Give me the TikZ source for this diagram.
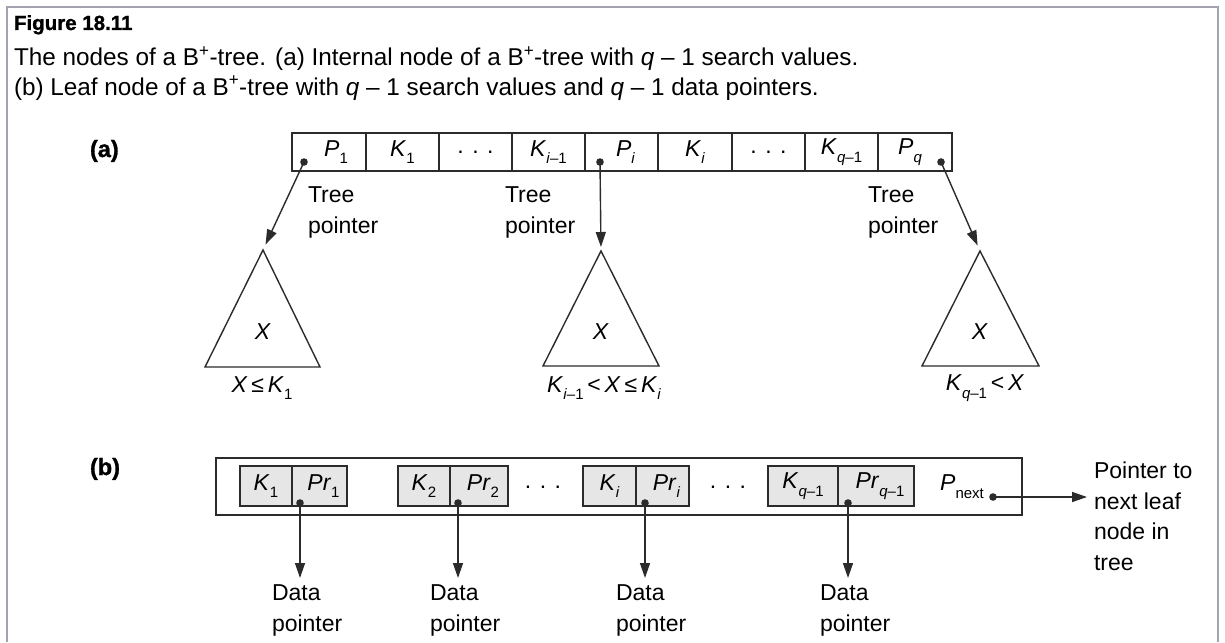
\documentclass[tikz,border=0pt]{standalone}
\usepackage{fontspec}
\setmainfont{Liberation Sans}
\newfontfamily\heavyfont[FakeBold=1.2]{Liberation Sans Bold}
\usetikzlibrary{arrows.meta}

% lowered subscript in the running text size
\newcommand\lo[1]{\raisebox{-0.34em}{\fontsize{15}{15}\selectfont #1}}
\newcommand\sym[2]{\textit{#1}\lo{#2}}

\definecolor{framegray}{HTML}{A3A3B2}
\definecolor{cellgray}{HTML}{E6E6E6}
\definecolor{ink}{HTML}{2B2B2B}

\begin{document}
\begin{tikzpicture}[x=1pt,y=-1pt,
  every node/.style={inner sep=0pt, outer sep=0pt, text=black,
    font=\fontsize{23}{27}\selectfont},
  capt/.style={anchor=base west, font=\fontsize{24.3}{28}\selectfont},
  partlabel/.style={anchor=base west, font=\fontsize{23.5}{28}\heavyfont},
  cell/.style={draw=ink, line width=1.4pt, anchor=north west, minimum height=38pt},
  gcell/.style={draw=ink, fill=cellgray, line width=1.4pt, anchor=north west, minimum height=40pt},
  note/.style={anchor=north west, align=left, font=\fontsize{23}{30.5}\selectfont},
  ptr/.style={draw=ink, line width=1.4pt, -{Triangle[length=15pt,width=10pt]}},
  tri/.style={draw=ink, line width=1.4pt, line join=miter},
  frame/.style={draw=framegray, line width=2pt}
]
\useasboundingbox (0,0) rectangle (1225,642);

% outer frame of the figure
\draw[frame] (7,642) -- (7,7.5) -- (1218,7.5) -- (1218,642);

% caption
\node[anchor=base west, font=\fontsize{20.5}{24}\heavyfont] (fig) at (14,30) {Figure 18.11};
\node[capt] (cap1) at (14,66) {The nodes of a B\textsuperscript{+}-tree. (a) Internal node of a B\textsuperscript{+}-tree with \textit{q} – 1 search values.};
\node[capt] (cap2) at (14,95) {(b) Leaf node of a B\textsuperscript{+}-tree with \textit{q} – 1 search values and \textit{q} – 1 data pointers.};

% ---------- (a) internal node ----------
\node[partlabel] (la) at (90,157) {(a)};

\node[cell, minimum width=74pt] (c1) at (292,133) {\hspace*{14pt}\sym{P}{1}};
\node[cell, minimum width=73pt] (c2) at (366,133) {\sym{K}{1}};
\node[cell, minimum width=73pt] (c3) at (439,133) {. . .};
\node[cell, minimum width=73pt] (c4) at (512,133) {\sym{K}{\textit{i}–1}};
\node[cell, minimum width=73pt] (c5) at (585,133) {\hspace*{8pt}\sym{P}{\textit{i}}};
\node[cell, minimum width=74pt] (c6) at (658,133) {\sym{K}{\textit{i}}};
\node[cell, minimum width=73pt] (c7) at (732,133) {. . .};
\node[cell, minimum width=73pt] (c8) at (805,133) {\sym{K}{\textit{q}–1}};
\node[cell, minimum width=74pt] (c9) at (878,133) {\sym{P}{\textit{q}}\hspace*{10pt}};

\coordinate (d1) at (304,162);
\coordinate (di) at (600,162);
\coordinate (dq) at (941,162);
\foreach \d in {d1,di,dq} \fill[ink] (\d) circle (3.8pt);

\node[note] (tp1) at (308,187) {Tree\\pointer};
\node[note] (tp2) at (505,187) {Tree\\pointer};
\node[note] (tp3) at (868,187) {Tree\\pointer};

% subtrees
\coordinate (t1) at (263,250);
\coordinate (t2) at (601,251);
\coordinate (t3) at (980,251);
\draw[tri] (t1) -- (205,367) -- (320,367) -- cycle;
\draw[tri] (t2) -- (543,366) -- (659,366) -- cycle;
\draw[tri] (t3) -- (922,366) -- (1039,366) -- cycle;
\node (x1) at (263,332) {\textit{X}};
\node (x2) at (601,332) {\textit{X}};
\node (x3) at (980,332) {\textit{X}};
\node (r1) at (262,388) {\textit{X}\,≤\,\sym{K}{1}};
\node (r2) at (604,388) {\sym{K}{\textit{i}–1}\,<\,\textit{X}\,≤\,\sym{K}{\textit{i}}};
\node (r3) at (985,388) {\sym{K}{\textit{q}–1}\,<\,\textit{X}};

\draw[ptr, shorten >=6pt] (d1) -- (t1);
\draw[ptr, shorten >=4pt] (di) -- (t2);
\draw[ptr, shorten >=6pt] (dq) -- (t3);

% ---------- (b) leaf node ----------
\node[partlabel] (lb) at (90,475) {(b)};

\node[draw=ink, line width=1.4pt, anchor=north west, minimum width=806pt, minimum height=57pt] (leaf) at (216,458) {};

\node[gcell, minimum width=52pt] (k1) at (240,466) {\sym{K}{1}};
\node[gcell, minimum width=55pt] (p1) at (292,466) {\hspace*{8pt}\sym{Pr}{1}};
\node[gcell, minimum width=52pt] (k2) at (398,466) {\sym{K}{2}};
\node[gcell, minimum width=58pt] (p2) at (450,466) {\hspace*{8pt}\sym{Pr}{2}};
\node (e1) at (543,487) {. . .};
\node[gcell, minimum width=53pt] (k3) at (583,466) {\sym{K}{\textit{i}}};
\node[gcell, minimum width=53pt] (p3) at (636,466) {\hspace*{8pt}\sym{Pr}{\textit{i}}};
\node (e2) at (728,487) {. . .};
\node[gcell, minimum width=70pt] (k4) at (768,466) {\sym{K}{\textit{q}–1}};
\node[gcell, minimum width=76pt] (p4) at (838,466) {\hspace*{8pt}\sym{Pr}{\textit{q}–1}};
\node (pn) at (962,487) {\textit{P}\lo{next}};

\coordinate (b1) at (300,503);
\coordinate (b2) at (458,503);
\coordinate (b3) at (645,503);
\coordinate (b4) at (848,503);
\coordinate (bn) at (993,497);
\foreach \d in {b1,b2,b3,b4,bn} \fill[ink] (\d) circle (3.8pt);

\coordinate (e1d) at (300,578);
\coordinate (e2d) at (458,578);
\coordinate (e3d) at (645,578);
\coordinate (e4d) at (848,578);
\coordinate (end) at (1087,497);
\draw[ptr] (b1) -- (e1d);
\draw[ptr] (b2) -- (e2d);
\draw[ptr] (b3) -- (e3d);
\draw[ptr] (b4) -- (e4d);
\draw[ptr] (bn) -- (end);

\node[note] (dp1) at (272,585) {Data\\pointer};
\node[note] (dp2) at (430,585) {Data\\pointer};
\node[note] (dp3) at (616,585) {Data\\pointer};
\node[note] (dp4) at (820,585) {Data\\pointer};
\node[note] (nx) at (1094,462) {Pointer to\\next leaf\\node in\\tree};
\end{tikzpicture}
\end{document}
